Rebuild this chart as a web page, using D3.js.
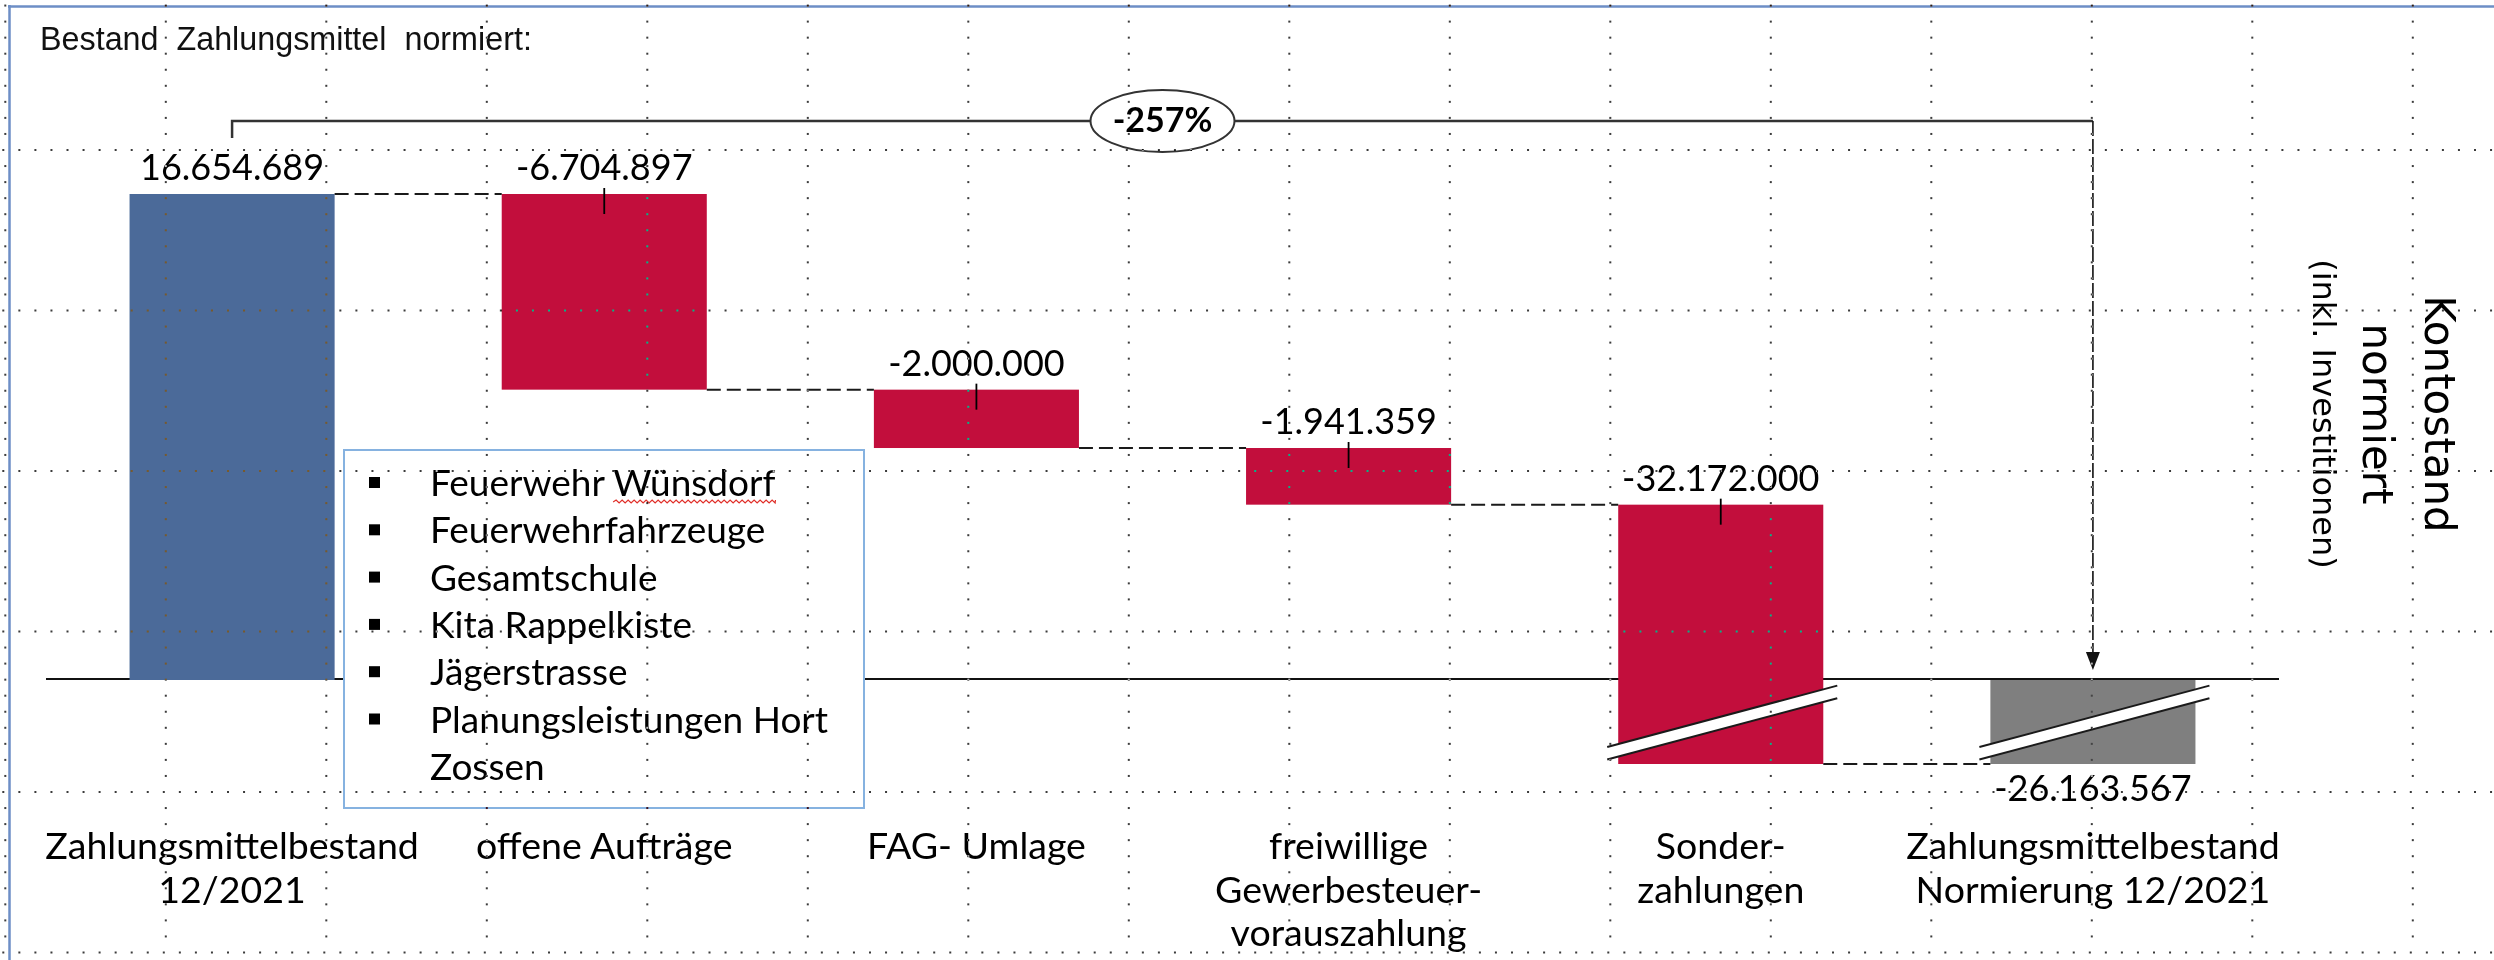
<!DOCTYPE html>
<html><head><meta charset="utf-8">
<script src="https://cdn.jsdelivr.net/npm/d3@7"></script>
<style>
html,body{margin:0;padding:0;background:#fff;}
svg{display:block;}
</style></head><body>
<script>
// ---------- data ----------
const categories = [
  "Zahlungsmittelbestand\n12/2021",
  "offene Aufträge",
  "FAG- Umlage",
  "freiwillige\nGewerbesteuer-\nvorauszahlung",
  "Sonder-\nzahlungen",
  "Zahlungsmittelbestand\nNormierung 12/2021"
];
const values = [16654689, -6704897, -2000000, -1941359, -32172000, -26163567];
const barTypes = ["start", "delta", "delta", "delta", "delta", "end"];
const legendItems = ["Feuerwehr Wünsdorf", "Feuerwehrfahrzeuge", "Gesamtschule", "Kita Rappelkiste", "Jägerstrasse", "Planungsleistungen Hort\nZossen"];
const titleText = "Bestand  Zahlungsmittel  normiert:";
const axisTitleLines = ["Kontostand", "normiert", "(inkl. Investitionen)"];

// ---------- setup ----------
const W = 2494, H = 960;
const colors = {start: "#4b6a99", delta: "#c20e3c", end: "#7f7f7f"};
const locale = d3.formatLocale({decimal: ",", thousands: ".", grouping: [3], currency: ["", " €"], minus: "-"});
const fmt = locale.format(",d");
const pct = locale.format(".0%");

const svg = d3.select("body").append("svg").attr("width", W).attr("height", H);
svg.append("rect").attr("width", W).attr("height", H).attr("fill", "#fff");

// waterfall computation
let cum = 0;
const bars = values.map((v, i) => {
  const t = barTypes[i];
  let y0, y1;
  if (t === "start") { y0 = 0; y1 = v; cum = v; }
  else if (t === "delta") { y0 = cum; y1 = cum + v; cum += v; }
  else { y0 = 0; y1 = v; }
  return {i, v, t, y0, y1, level: (t === "end" ? v : cum)};
});

const x = d3.scaleBand().domain(d3.range(categories.length)).range([46, 2279])
  .paddingInner(0.449).paddingOuter(0.2245);
const bw = x.bandwidth();
// broken axis: negative part compressed
const y = d3.scaleLinear().domain([values[values.length - 1], 0, values[0]]).range([764, 680, 194]);

// frame
svg.append("line").attr("x1", 8).attr("x2", W).attr("y1", 6.5).attr("y2", 6.5)
  .attr("stroke", "#6d8ec6").attr("stroke-width", 2.5);
svg.append("line").attr("x1", 9.5).attr("x2", 9.5).attr("y1", 5).attr("y2", H)
  .attr("stroke", "#6d8ec6").attr("stroke-width", 2.5);

// title
svg.append("text").attr("x", 40).attr("y", 50).attr("font-family", "Liberation Sans, Arial, sans-serif")
  .attr("font-size", 32.3).attr("fill", "#111").style("white-space", "pre").text(titleText);

// baseline
svg.append("line").attr("x1", x.range()[0]).attr("x2", x.range()[1])
  .attr("y1", y(0) - 1).attr("y2", y(0) - 1).attr("stroke", "#111").attr("stroke-width", 2);

// bars
svg.append("g").selectAll("rect").data(bars).join("rect")
  .attr("x", d => x(d.i)).attr("width", bw)
  .attr("y", d => y(Math.max(d.y0, d.y1)))
  .attr("height", d => Math.abs(y(d.y0) - y(d.y1)))
  .attr("fill", d => colors[d.t]);

// break marks on bars reaching into compressed region
const slope = -0.2667, half = 6.3;
const brk = svg.append("g");
bars.filter(d => Math.min(d.y0, d.y1) < 0).forEach(d => {
  const cx = x(d.i) + bw / 2;
  const cy = (y(0) + y(values[values.length - 1])) / 2 + 1;
  const xl = x(d.i) - 11, xr = x(d.i) + bw + 14;
  const f = xx => slope * (xx - cx);
  brk.append("path")
    .attr("d", `M${xl},${cy - half + f(xl)}L${xr},${cy - half + f(xr)}L${xr},${cy + half + f(xr)}L${xl},${cy + half + f(xl)}Z`)
    .attr("fill", "#fff");
  [-half, half].forEach(o => brk.append("line")
    .attr("x1", xl).attr("y1", cy + o + f(xl)).attr("x2", xr).attr("y2", cy + o + f(xr))
    .attr("stroke", "#1a1a1a").attr("stroke-width", 2));
});

// connectors
svg.append("g").selectAll("line").data(bars.slice(0, -1)).join("line")
  .attr("x1", d => x(d.i) + bw).attr("x2", d => x(d.i + 1))
  .attr("y1", d => y(d.level)).attr("y2", d => y(d.level))
  .attr("stroke", "#1a1a1a").attr("stroke-width", 2).attr("stroke-dasharray", "14 6");

// ticks on delta bars
svg.append("g").selectAll("line").data(bars.filter(d => d.t === "delta")).join("line")
  .attr("x1", d => x(d.i) + bw / 2).attr("x2", d => x(d.i) + bw / 2)
  .attr("y1", d => y(Math.max(d.y0, d.y1)) - 6).attr("y2", d => y(Math.max(d.y0, d.y1)) + 20)
  .attr("stroke", "#000").attr("stroke-width", 1.8);

// value labels
svg.append("g").selectAll("text").data(bars).join("text")
  .attr("x", d => x(d.i) + bw / 2)
  .attr("y", d => d.t === "end" ? y(Math.min(d.y0, d.y1)) + 37 : y(Math.max(d.y0, d.y1)) - 14)
  .attr("text-anchor", "middle").attr("font-family", "Lato, sans-serif").attr("font-size", 36)
  .attr("fill", "#000").text(d => fmt(d.v));

// category labels
svg.append("g").selectAll("text").data(categories).join("text")
  .attr("text-anchor", "middle").attr("font-family", "Lato, sans-serif").attr("font-size", 37.5).attr("fill", "#000")
  .each(function(c, i) {
    d3.select(this).selectAll("tspan").data(c.split("\n")).join("tspan")
      .attr("x", x(i) + bw / 2).attr("y", (d, k) => 859 + k * 43.5).text(d => d);
  });

// annotation bracket
const xs = x(0) + bw / 2, xe = x(categories.length - 1) + bw / 2, yb = 121;
svg.append("path").attr("d", `M${xs},138V${yb}H${xe}`).attr("fill", "none")
  .attr("stroke", "#333").attr("stroke-width", 2.5);
const tipY = y(0) - 10;
svg.append("line").attr("x1", xe).attr("x2", xe).attr("y1", yb).attr("y2", tipY - 14)
  .attr("stroke", "#111").attr("stroke-width", 1.6).attr("stroke-dasharray", "15 3");
svg.append("path").attr("d", `M${xe - 7},${tipY - 18}L${xe + 7},${tipY - 18}L${xe},${tipY}Z`).attr("fill", "#111");
const change = (values[values.length - 1] - values[0]) / values[0];
const ex = (xs + xe) / 2;
svg.append("ellipse").attr("cx", ex).attr("cy", yb).attr("rx", 72).attr("ry", 31)
  .attr("fill", "#fff").attr("stroke", "#333").attr("stroke-width", 2);
svg.append("text").attr("x", ex).attr("y", yb + 11).attr("text-anchor", "middle")
  .attr("font-family", "Lato, sans-serif").attr("font-weight", 700).attr("font-size", 34)
  .attr("fill", "#000").text(pct(change));

// legend box
const lg = svg.append("g");
lg.append("rect").attr("x", 344).attr("y", 450).attr("width", 520).attr("height", 358)
  .attr("fill", "#fff").attr("stroke", "#86b2e0").attr("stroke-width", 2);
let line = 0;
legendItems.forEach(item => {
  item.split("\n").forEach((t, k) => {
    const by = 496 + line * 47.3;
    if (k === 0) lg.append("rect").attr("x", 369).attr("y", by - 19).attr("width", 11).attr("height", 11).attr("fill", "#000");
    const tx = lg.append("text").attr("x", 430).attr("y", by).attr("font-family", "Lato, sans-serif")
      .attr("font-size", 37).attr("fill", "#000").text(t);
    if (t === "Feuerwehr Wünsdorf") {
      const n = tx.node();
      const s = n.getStartPositionOfChar(10).x, e = n.getEndPositionOfChar(t.length - 1).x;
      let p = `M${s},${by + 6}`;
      for (let xx = s, up = true; xx < e; xx += 3, up = !up) p += `L${Math.min(xx + 3, e)},${by + (up ? 4 : 7)}`;
      lg.append("path").attr("d", p).attr("fill", "none").attr("stroke", "#e0302a").attr("stroke-width", 1.2);
    }
    line++;
  });
});

// right axis title (rotated)
const axX = [2425, 2363, 2313], axFs = [42, 42, 32];
axisTitleLines.forEach((t, k) => {
  svg.append("text").attr("transform", `translate(${axX[k]},414) rotate(90)`).attr("text-anchor", "middle")
    .attr("font-family", "DejaVu Sans, Verdana, sans-serif").attr("font-size", axFs[k]).attr("fill", "#000").text(t);
});

// slide grid (dotted), drawn on top with difference blending
const grid = svg.append("g").style("mix-blend-mode", "difference").attr("fill", "#c4c4c4");
const step = 160.5, dot = 16.05, gx0 = 5.3, gy0 = -10.5;
const dots = [];
for (let r = gy0; r < H; r += step) for (let xx = gx0 - 2; xx < W; xx += dot) dots.push([xx, r]);
for (let c = gx0; c < W; c += step) for (let yy = gy0 + dot; yy < H; yy += dot) {
  if (Math.abs(((yy - gy0) % step)) > 1 && Math.abs(((yy - gy0) % step) - step) > 1) dots.push([c, yy]);
}
grid.selectAll("rect").data(dots).join("rect")
  .attr("x", d => d[0] - 1).attr("y", d => d[1] - 1).attr("width", 2).attr("height", 2);
</script>
</body></html>
